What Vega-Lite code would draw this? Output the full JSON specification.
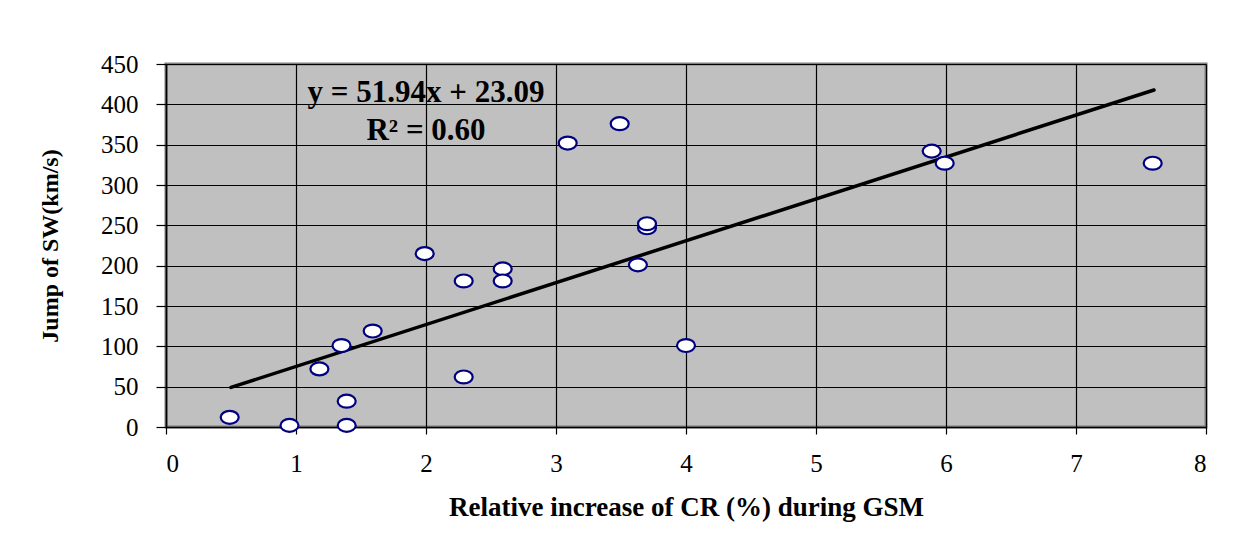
{
  "$schema": "https://vega.github.io/schema/vega-lite/v6.json",
  "width": 1040,
  "height": 363,
  "autosize": {"type": "none"},
  "padding": {"left": 166, "top": 64, "right": 44, "bottom": 111},
  "background": "white",
  "datasets": {
    "points": [
      {"cr": 0.49, "sw": 12},
      {"cr": 0.95, "sw": 2},
      {"cr": 1.18, "sw": 72},
      {"cr": 1.35, "sw": 101},
      {"cr": 1.39, "sw": 32},
      {"cr": 1.39, "sw": 2},
      {"cr": 1.59, "sw": 119},
      {"cr": 1.99, "sw": 215},
      {"cr": 2.29, "sw": 181},
      {"cr": 2.29, "sw": 62},
      {"cr": 2.59, "sw": 196},
      {"cr": 2.59, "sw": 181},
      {"cr": 3.09, "sw": 352},
      {"cr": 3.49, "sw": 376},
      {"cr": 3.63, "sw": 201},
      {"cr": 3.7, "sw": 247},
      {"cr": 3.7, "sw": 252},
      {"cr": 4.0, "sw": 101},
      {"cr": 5.89, "sw": 342},
      {"cr": 5.99, "sw": 327},
      {"cr": 7.59, "sw": 327}
    ],
    "trend": [
      {"cr": 0.5, "sw": 49.1},
      {"cr": 7.6, "sw": 417.8}
    ],
    "labels": [
      {"cr": 2.0, "sw": 414, "text": "y = 51.94x + 23.09"},
      {"cr": 2.0, "sw": 367, "text": "R² = 0.60"}
    ]
  },
  "layer": [
    {
      "data": {"name": "trend"},
      "mark": {"type": "line", "color": "black", "strokeWidth": 3.5, "strokeCap": "round"},
      "encoding": {
        "x": {"field": "cr", "type": "quantitative"},
        "y": {"field": "sw", "type": "quantitative"}
      }
    },
    {
      "data": {"name": "points"},
      "mark": {
        "type": "point",
        "shape": "M-1,0A1,0.72 0 1,1 1,0A1,0.72 0 1,1 -1,0Z",
        "size": 324,
        "filled": false,
        "fill": "white",
        "fillOpacity": 1,
        "stroke": "#000080",
        "strokeWidth": 2.2,
        "opacity": 1
      },
      "encoding": {
        "x": {"field": "cr", "type": "quantitative"},
        "y": {"field": "sw", "type": "quantitative"}
      }
    },
    {
      "data": {"name": "labels"},
      "mark": {"type": "text", "font": "Liberation Serif", "fontWeight": "bold", "fontSize": 31, "align": "center", "baseline": "middle", "color": "black"},
      "encoding": {
        "x": {"field": "cr", "type": "quantitative"},
        "y": {"field": "sw", "type": "quantitative"},
        "text": {"field": "text"}
      }
    }
  ],
  "resolve": {"scale": {"x": "shared", "y": "shared"}},
  "encoding": {
    "x": {
      "field": "cr", "type": "quantitative",
      "scale": {"domain": [0, 8], "nice": false, "zero": false},
      "axis": {
        "title": "Relative increase of CR (%) during GSM",
        "values": [0, 1, 2, 3, 4, 5, 6, 7, 8],
        "tickSize": 7,
        "labelPadding": 17,
        "titlePadding": 18
      }
    },
    "y": {
      "field": "sw", "type": "quantitative",
      "scale": {"domain": [0, 450], "nice": false},
      "axis": {
        "title": "Jump of SW(km/s)",
        "values": [0, 50, 100, 150, 200, 250, 300, 350, 400, 450],
        "tickSize": 10,
        "labelPadding": 18,
        "titlePadding": 38
      }
    }
  },
  "config": {
    "view": {"fill": "#C0C0C0", "stroke": "#808080", "strokeWidth": 3},
    "axis": {
      "grid": true,
      "gridColor": "#000000",
      "gridWidth": 1.2,
      "gridOpacity": 1,
      "domainColor": "black",
      "domainWidth": 1.5,
      "tickColor": "black",
      "tickWidth": 1.2,
      "labelFont": "Liberation Serif",
      "labelFontSize": 25,
      "labelColor": "black",
      "titleFont": "Liberation Serif",
      "titleFontWeight": "bold",
      "titleFontSize": 27,
      "titleColor": "black"
    },
    "axisY": {"titleFontSize": 24}
  }
}
